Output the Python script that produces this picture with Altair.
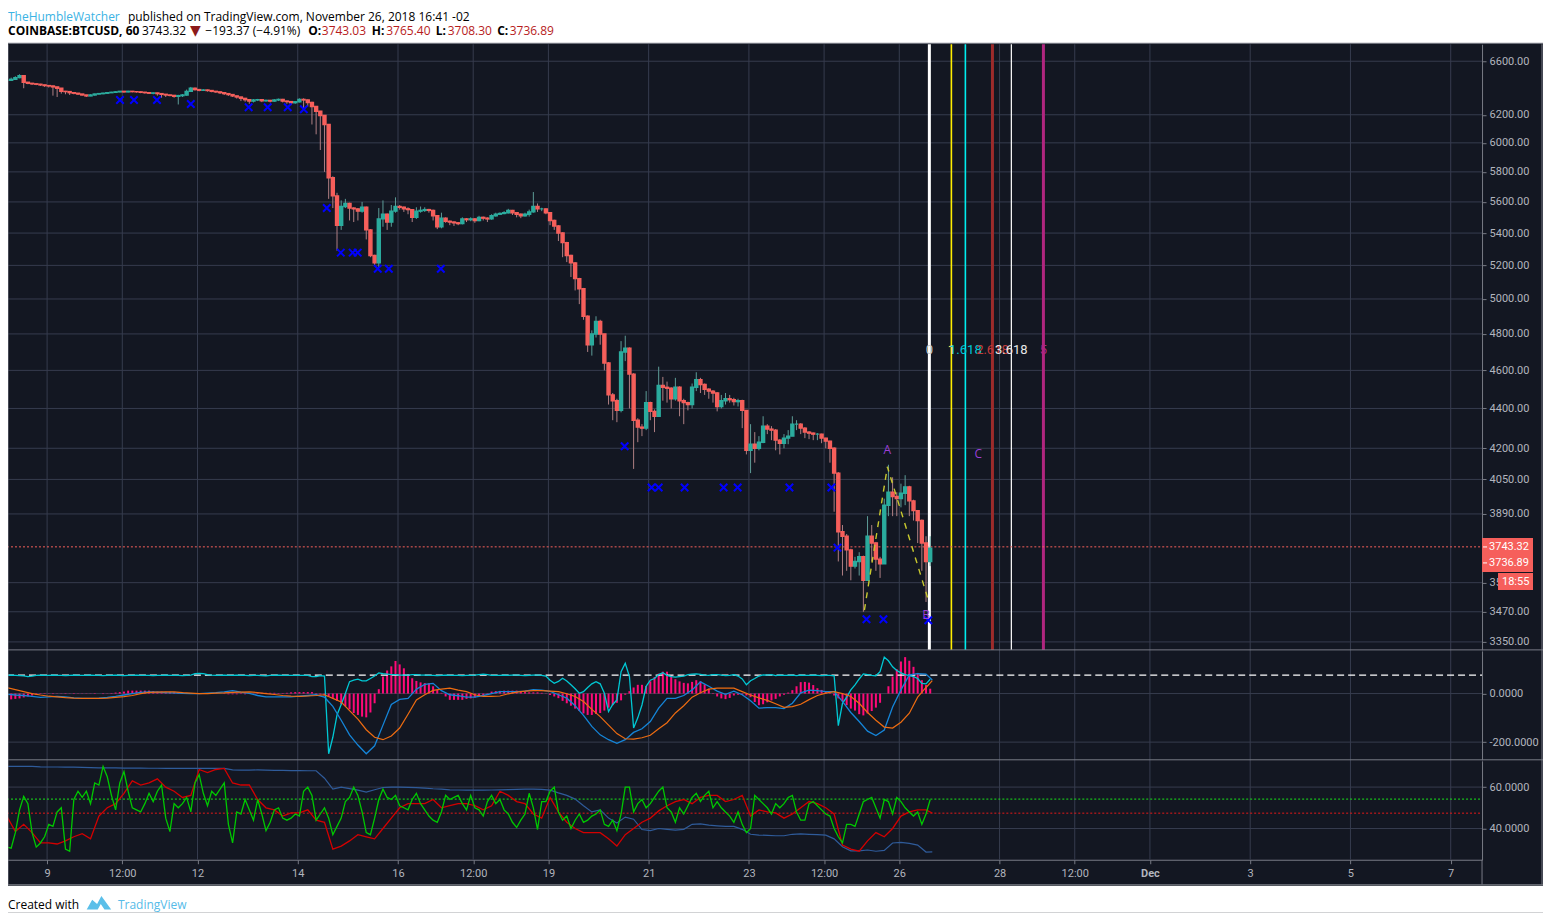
import altair as alt
import pandas as pd

# ---------- data ----------
closes = [
 6455,6462,6475,6490,6440,6432,6428,6425,6420,6415,
 6412,6405,6395,6372,6370,6362,6358,6352,6345,6338,
 6345,6352,6355,6358,6362,6365,6368,6372,6368,6372,
 6370,6368,6365,6362,6358,6360,6355,6350,6345,6342,
 6335,6340,6345,6372,6395,6385,6380,6382,6378,6372,
 6368,6362,6355,6348,6338,6330,6320,6310,6300,6308,
 6310,6302,6305,6300,6308,6312,6300,6296,6288,6295,
 6312,6308,6290,6260,6225,6195,6130,5760,5640,5450,
 5570,5590,5560,5555,5540,5565,5420,5260,5215,5490,
 5520,5470,5540,5570,5565,5555,5550,5500,5540,5545,
 5550,5545,5510,5440,5495,5475,5470,5465,5460,5490,
 5485,5490,5480,5500,5495,5490,5510,5520,5525,5530,
 5545,5530,5520,5510,5520,5535,5570,5555,5555,5530,
 5480,5445,5400,5340,5260,5215,5120,5060,4900,4740,
 4800,4870,4800,4640,4470,4440,4390,4700,4720,4580,
 4340,4305,4300,4430,4385,4360,4520,4510,4505,4450,
 4510,4440,4430,4420,4510,4550,4525,4500,4490,4480,
 4410,4440,4450,4445,4435,4440,4390,4190,4220,4200,
 4230,4310,4295,4290,4240,4225,4250,4260,4320,4320,
 4300,4280,4275,4270,4270,4250,4235,4200,4080,3810,
 3790,3730,3660,3680,3700,3600,3790,3760,3690,3670,
 3930,3990,3970,3960,3985,4015,3950,3905,3860,3760,
 3680,3737]
highs = [
 6470,6475,6485,6500,6490,6440,6435,6430,6428,6422,
 6418,6415,6405,6395,6375,6372,6365,6358,6352,6346,
 6350,6355,6358,6362,6365,6368,6372,6375,6375,6376,
 6375,6374,6372,6368,6364,6364,6362,6358,6352,6348,
 6345,6346,6352,6385,6405,6400,6390,6388,6385,6380,
 6374,6370,6362,6356,6350,6340,6332,6320,6312,6315,
 6316,6312,6310,6308,6314,6318,6316,6304,6298,6300,
 6320,6320,6312,6295,6262,6228,6195,6130,5770,5660,
 5610,5620,5595,5565,5560,5600,5570,5425,5265,5560,
 5610,5525,5580,5630,5580,5570,5565,5552,5565,5570,
 5565,5555,5550,5512,5530,5500,5480,5475,5470,5500,
 5495,5500,5495,5510,5505,5500,5520,5530,5532,5540,
 5555,5548,5530,5525,5530,5550,5665,5590,5562,5558,
 5530,5485,5450,5405,5345,5265,5220,5125,5065,4905,
 4820,4900,4880,4800,4645,4480,4450,4760,4790,4725,
 4585,4350,4320,4490,4435,4395,4620,4565,4540,4510,
 4560,4515,4450,4435,4530,4590,4560,4530,4505,4495,
 4485,4470,4480,4470,4455,4450,4445,4392,4320,4280,
 4260,4360,4320,4310,4295,4245,4270,4290,4360,4340,
 4325,4305,4285,4278,4275,4272,4252,4237,4205,4085,
 3840,3800,3735,3700,3720,3705,3880,3840,3765,3700,
 3960,4120,4060,3990,4030,4070,4020,3955,3905,3865,
 3790,3790]
lows = [
 6445,6450,6460,6470,6395,6425,6420,6418,6412,6405,
 6400,6340,6330,6355,6350,6345,6350,6345,6340,6330,
 6336,6340,6348,6350,6355,6360,6362,6365,6362,6364,
 6364,6362,6358,6355,6352,6350,6340,6325,6330,6335,
 6325,6275,6330,6340,6370,6378,6372,6375,6370,6365,
 6360,6352,6345,6338,6330,6318,6300,6295,6280,6290,
 6300,6292,6295,6290,6295,6300,6290,6280,6270,6280,
 6290,6240,6260,6130,6060,5950,5800,5620,5560,5290,
 5420,5560,5480,5470,5480,5530,5360,5250,5200,5190,
 5440,5420,5440,5530,5550,5535,5520,5470,5490,5530,
 5535,5530,5480,5425,5430,5465,5450,5445,5450,5455,
 5470,5475,5465,5475,5480,5470,5485,5505,5515,5520,
 5525,5515,5500,5495,5505,5505,5530,5535,5540,5520,
 5450,5420,5350,5250,5220,5130,5050,4970,4880,4700,
 4680,4780,4740,4600,4420,4340,4330,4380,4650,4400,
 4100,4230,4260,4290,4340,4280,4360,4440,4430,4400,
 4440,4360,4320,4390,4400,4490,4480,4470,4450,4430,
 4385,4400,4420,4430,4415,4410,4300,4170,4080,4130,
 4190,4225,4270,4240,4190,4170,4200,4220,4260,4290,
 4270,4250,4245,4240,4240,4225,4200,4130,3900,3680,
 3620,3640,3600,3650,3620,3470,3600,3680,3640,3610,
 3680,3880,3880,3880,3920,3930,3880,3860,3760,3640,
 3510,3660]
hist = [
 -22,-24,-22,-20,-16,-12,-8,-5,-2,-2,
 1,-2,1,-1,-2,1,2,1,-1,-1,
 1,2,0,-2,-1,2,4,6,8,12,
 12,12,12,12,12,10,8,8,7,7,
 6,5,5,2,2,1,-1,-2,-1,1,
 1,0,-2,-3,-3,-3,-2,-3,-2,-1,
 2,3,3,3,3,2,2,3,5,6,
 6,6,6,6,-3,-4,-8,-12,-18,-30,
 -44,-52,-65,-80,-88,-95,-98,-78,-40,18,
 70,95,112,134,120,104,80,63,52,46,
 43,42,30,15,3,-12,-26,-26,-26,-26,
 -22,-20,-16,-12,-8,-5,8,10,11,12,
 12,12,12,7,6,5,5,5,3,1,
 -6,-12,-19,-30,-40,-50,-62,-72,-82,-88,
 -88,-84,-80,-70,-58,-48,-38,-28,-5,10,
 25,36,36,31,50,68,82,90,90,75,
 59,50,44,42,48,55,50,38,20,2,
 -12,-20,-23,-18,-8,-5,-5,-8,-15,-35,
 -48,-44,-36,-28,-22,-12,-5,4,14,30,
 47,48,45,35,22,15,8,2,-8,-20,
 -32,-48,-62,-70,-85,-90,-82,-72,-58,-38,
 0,30,70,100,132,150,135,110,85,55,
 35,20]
macd_fast = [
 75,76,75,74,73,70,72,75,76,75,
 75,76,75,75,74,75,76,75,75,75,
 76,75,75,74,75,75,76,75,74,75,
 75,76,75,75,75,74,75,75,76,75,
 75,75,74,75,76,82,83,82,78,76,
 75,75,76,75,75,76,75,75,74,75,
 75,74,73,75,75,76,75,75,75,75,
 75,75,75,70,70,74,72,-248,-180,-88,
 -45,0,49,55,59,52,52,62,72,85,
 82,80,78,78,76,76,76,78,78,76,
 76,75,75,74,75,76,75,75,75,74,
 75,75,76,78,80,78,75,75,75,76,
 75,76,76,75,74,75,76,76,75,72,
 55,42,50,63,52,36,20,1,8,25,
 40,49,40,1,-74,-45,-26,90,125,70,
 -142,-100,-47,30,55,62,78,86,75,70,
 68,70,72,78,80,81,79,76,75,78,
 78,76,74,75,78,72,60,36,53,62,
 72,77,76,78,74,76,75,75,76,74,
 76,75,75,76,75,74,75,75,73,-132,
 -40,-15,15,36,60,81,78,75,73,90,
 150,135,110,95,85,78,74,70,62,42,
 40,59]
rsi_fast = [
 31,30.5,38,49,55.5,52,38,31,33,36,
 42,41,48,50,30,29,54,58,55,58,
 52,62,61,70,65,56,49,62,67.5,58,
 50,49,48,52,57,53,58,61,45,38.5,
 52,50,52,55,48,62,66,57,51,58,
 56,59,62,42,33,48,47,54,49,44,
 54,47,39,43,49,50,45,44,45,47,
 46,58,60,56,44,47,50,45,37,41,
 45,53,55,60,56,48,38,37,45,54,
 59,55,54,56,51,50,49,54,57,52,
 49,46,44,43,48,56,54,55,56,52,
 49,56,50,49,46,53,56,52,54,49,
 47,43,40.5,44,47,57,50,39.5,53,53,
 58,60,48,44,46,40,44,47,43,44,
 46,47,49,42,41,44,39,47,60,60,
 48,52,54,50,52,55,58,60,50,48,
 43,50,47,51,55,57,53,56,58,50,
 53,50,48,46,43,48,42,38,40,56,
 54,52,50,47,52,50,52,55,56,48,
 44,44,52,53,51,49,47,46,40,36,
 33,42,42,41,47,53,54,55,50,45,
 54,53,47,55,53,50,48,46,48,42,
 47,54]
macd_line = [
 -3,-6,-8,-12,-16,-14,-12,-14,-18,-20,-20,-19,-16,-12,-6,0,5,7,6,4,3,1,0,0,2,4,7,12,6,1,
 -8,-14,-14,-14,-14,-11,-8,-5,-15,-53,-110,-170,-212,-248,-215,-130,-45,-24,-20,18,38,42,12,-5,-9,-15,-15,-8,0,8,
 8,8,10,16,14,9,-5,-19,-50,-90,-135,-170,-190,-205,-190,-160,-145,-115,-60,-20,-20,-8,15,48,30,10,-3,10,-5,-30,
 -60,-58,-58,-62,-40,3,14,12,8,8,-32,-78,-115,-155,-173,-150,-55,15,77,82,80,56]
macd_signal = [
 24,16,8,0,-6,-11,-14,-17,-19,-20,-20,-20,-19,-16,-13,-8,0,5,6,7,7,4,2,0,0,2,3,5,6,7,
 4,0,-4,-8,-11,-12,-10,-8,-5,-20,-35,-70,-105,-149,-180,-190,-175,-142,-85,-26,-5,13,18,22,14,8,-5,-12,-12,-10,
 -1,6,10,12,12,10,8,-1,-12,-33,-65,-95,-130,-165,-186,-188,-182,-172,-145,-120,-80,-50,-15,3,18,22,22,22,8,-6,
 -18,-28,-42,-57,-54,-44,-25,-8,2,8,0,-12,-40,-78,-110,-138,-142,-118,-81,-15,25,53]
rsi_slow = [
 45.8,38.5,42,38,33,33,32.5,34,36,37.5,35,46,50,52,57,63,61,62,64,60,58,55,56,68.5,67,68.5,69,62,61,61,
 54,50,49,46,47.5,47.5,49,44,43,30,31.5,34,37,36,35,40,45,50,52,52,52,54,50,51,52,52,51,49,51,58,
 56,53,52,47,45,55,48,43,40,38,38,38,35,31.5,37,40,43,45,48.5,51,53,54,52,55,56,56,53,54,56,46,
 49,48,47.5,45,47,50,53,52,50,47,32,30,29,34,38,36,40,46,48,49,49,47.5]
rsi_long = [
 70,70,70,70,69.8,69.7,69.7,69.6,69.6,69.5,69.4,69.3,69.3,69.3,69.2,69.2,69.2,69.1,69.1,69,69,69,69,69,69,69,69,68.3,68.2,68.2,
 68.3,68.2,68.1,68.1,68,68,67.9,67.9,64.3,59,60,59.3,58.5,57.6,58.7,59.8,60,60,59.9,59.7,59.5,59.2,59,58.7,58.6,58.5,58.5,58.5,58.6,58.7,
 58.8,58.9,59,59,58.9,58.5,57.2,56,54.2,51,48,49,45,42.6,45.5,44.5,39.5,39,40,39.6,39.2,39.6,42,42.2,41.6,41.3,41,41,39.6,37.2,
 36.8,36.7,36.5,36.5,37.2,37.4,37.2,37,36.8,35,31.2,29.2,29.2,29.6,29,29.4,33,33.3,32.8,32,28.6,28.7]

cross_hours = [54.1,60.8,71.8,88,115.7,124.8,134.4,142.1,153.1,159.8,165.5,167.9,177.5,182.8,207.7,295.7,308.6,312,324.4,343.1,349.8,374.6,394.7,397.6,411.5,419.6,441.1]
cross_price = [6308,6308,6308,6278,6255,6255,6255,6240,5560,5278,5278,5278,5180,5180,5180,4210,4012,4012,4012,4012,4012,4012,4012,3740,3440,3440,3436]

abcd_hours = [410.5,421.5,441.1]
abcd_price = [3477,4110,3518]

fib_hours = [441.6,452.14,458.84,471.8,480.85,496.2]
fib_colors = ["#ffffff","#ffee00","#00eeee","#9c2b2b","#ffffff","#b0267f"]
fib_widths = [3,1.6,1.6,3,1.2,3]
fib_texts = ["0","1","1.618","2.618","3.618","5"]
fib_textcolors = ["#d0d0d0","#ffeb3b","#00c8d8","#c43c3c","#e8e8e8","#b0267f"]

price_ticks = [6600,6200,6000,5800,5600,5400,5200,5000,4800,4600,4400,4200,4050,3890,3590,3470,3350]
macd_ticks = [0,-200]
rsi_ticks = [60,40]
x_tick_hours = [19.2,55.2,91.2,139.2,187.2,223.2,259.2,307.2,355.2,391.2,427.2,475.2,511.2,547.2,595.2,643.2,691.2]
x_tick_labels = ["9","12:00","12","14","16","12:00","19","21","23","12:00","26","28","12:00","Dec","3","5","7"]

# ---------- page geometry (plot area is the whole chart; page px - 8) ----------
W, H = 1536, 905
BG = "#131722"; GRID = "#363c4e"; EDGE = "#787b86"; TXT = "#b2b5be"
RED = "#f65f5b"; TEAL = "#2bac9e"
LEFT, RIGHT = -1, 1475

xs = alt.Scale(domain=[0, 706.2], range=[LEFT, RIGHT], nice=False, zero=False, padding=0)
main = alt.Scale(type="log", domain=[3319, 6732], range=[642, 36], nice=False)
ms = alt.Scale(domain=[-272.8, 175.7], range=[752, 643], nice=False, zero=False)
rs = alt.Scale(domain=[24.9, 72.7], range=[852, 753], nice=False, zero=False)

X = alt.X("h:Q", scale=xs, axis=None)

def yq(field, scale):
    return alt.Y(field + ":Q", scale=scale, axis=None)

def frame(**cols):
    return pd.DataFrame(cols)

def txt(s, px, py, color="#000000", size=12, weight="normal", align="left", font="Open Sans"):
    return alt.Chart(frame(t=[s])).mark_text(
        align=align, baseline="middle", color=color, fontSize=size, fontWeight=weight, font=font
    ).encode(x=alt.value(px - 8), y=alt.value(py - 8), text="t:N")

def box(x0, x1, y0, y1, color):
    return alt.Chart(frame(a=[0])).mark_rect(color=color).encode(
        x=alt.value(x0 - 8), x2=alt.value(x1 - 8), y=alt.value(y0 - 8), y2=alt.value(y1 - 8))

def hrule(x0, x1, y, color=EDGE, w=1):
    return alt.Chart(frame(a=[0])).mark_rule(color=color, strokeWidth=w).encode(
        x=alt.value(x0 - 8), x2=alt.value(x1 - 8), y=alt.value(y - 8))

def vrule(x, y0, y1, color=EDGE, w=1):
    return alt.Chart(frame(a=[0])).mark_rule(color=color, strokeWidth=w).encode(
        x=alt.value(x - 8), y=alt.value(y0 - 8), y2=alt.value(y1 - 8))

def hgrid(values, scale, axis):
    return alt.Chart(frame(v=values)).mark_rule(color=GRID, strokeWidth=1).encode(
        y=alt.Y("v:Q", scale=scale, axis=axis), x=alt.value(LEFT), x2=alt.value(RIGHT))

def line(values, scale, color, w=1.2, step=4):
    hours = [min(step * k, 443) for k in range(len(values))]
    return alt.Chart(frame(h=hours, v=values)).mark_line(color=color, strokeWidth=w, interpolate="linear").encode(
        x=X, y=yq("v", scale))

def level(value, scale, color, dash, w=1):
    return alt.Chart(frame(v=[value])).mark_rule(color=color, strokeDash=dash, strokeWidth=w).encode(
        y=yq("v", scale), x=alt.value(LEFT), x2=alt.value(RIGHT))

def yaxis(values, fmt):
    return alt.Axis(values=values, format=fmt, orient="right", offset=-61, title=None, grid=False,
                    labelExpr="replace(datum.label, '\u2212', '-')",
                    labelColor=TXT, labelFont="Roboto", labelFontSize=11, labelPadding=3,
                    tickColor=EDGE, tickSize=4, domainColor=EDGE, labelOverlap=False)

label_map = ",".join("'%s':'%s'" % (h, l) for h, l in zip(x_tick_hours, x_tick_labels))
x_axis = alt.Axis(values=x_tick_hours, orient="bottom", offset=-53, title=None, grid=False,
                  labelExpr="{%s}[datum.value]" % label_map,
                  labelColor=TXT, labelFont="Roboto", labelFontSize=11, labelPadding=4,
                  labelFontWeight={"condition": {"test": "datum.value == 547.2", "value": "bold"}, "value": "normal"},
                  tickColor=EDGE, tickSize=4, domainColor=EDGE, labelOverlap=False)

# ---------- candles ----------
opens = [closes[0]] + closes[:-1]
cdf = frame(h=[2 * i for i in range(len(closes))], o=opens, c=closes, hi=highs, lo=lows)
cdf["body"] = [TEAL if c >= o else RED for o, c in zip(opens, closes)]
cdf["wick"] = ["#5d9d98" if c >= o else "#b08084" for o, c in zip(opens, closes)]

wicks = alt.Chart(cdf).mark_rule(strokeWidth=1).encode(
    x=X, y=yq("lo", main), y2=alt.Y2("hi"), color=alt.Color("wick:N", scale=None, legend=None))
bodies = alt.Chart(cdf).mark_bar(size=3, strokeWidth=1.4).encode(
    x=X, y=yq("o", main), y2=alt.Y2("c"),
    color=alt.Color("body:N", scale=None, legend=None),
    stroke=alt.Stroke("body:N", scale=None, legend=None))

crosses = alt.Chart(frame(h=cross_hours, p=cross_price)).mark_point(
    shape="M-1,-1L1,1M-1,1L1,-1", size=56, color="#0000ff", strokeWidth=2, filled=False, opacity=1
).encode(x=X, y=yq("p", main))

abcd = alt.Chart(frame(h=abcd_hours, p=abcd_price)).mark_line(
    color="#c9c92e", strokeWidth=1.4, strokeDash=[6, 6]).encode(x=X, y=yq("p", main))

fdf = frame(h=fib_hours, col=fib_colors, w=fib_widths, t=fib_texts, tc=fib_textcolors, p=[4710] * 6)
fib_lines = alt.Chart(fdf).mark_rule().encode(
    x=X, y=alt.value(36), y2=alt.value(642),
    color=alt.Color("col:N", scale=None, legend=None),
    strokeWidth=alt.StrokeWidth("w:Q", scale=None, legend=None))
fib_text = alt.Chart(fdf).mark_text(fontSize=13, font="Roboto", baseline="middle").encode(
    x=X, y=yq("p", main), text="t:N", color=alt.Color("tc:N", scale=None, legend=None))

abc = alt.Chart(frame(h=[421.5, 465, 440], p=[4190, 4170, 3455], t=["A", "C", "B"])).mark_text(
    fontSize=12, font="Open Sans", color="#9b3fd6", baseline="middle").encode(x=X, y=yq("p", main), text="t:N")

hdf = frame(h=[2 * i for i in range(len(hist))], v=hist, z=[0] * len(hist))
hist_bars = alt.Chart(hdf).mark_rule(color="#ff0a78", strokeWidth=2).encode(x=X, y=yq("z", ms), y2=alt.Y2("v"))

xgrid = alt.Chart(frame(h=x_tick_hours)).mark_rule(color=GRID, strokeWidth=1).encode(
    x=alt.X("h:Q", scale=xs, axis=x_axis), y=alt.value(36), y2=alt.value(852))

logo = alt.Chart(frame(a=[0])).mark_point(
    shape="M-1,0.55L-0.55,-0.25L-0.15,0.1L0.2,-0.55L1,0.55L0.45,0.55L0.15,0.1L-0.1,0.55Z",
    size=600, color="#5bbfe9", filled=True, opacity=1, strokeWidth=0
).encode(x=alt.value(99 - 8), y=alt.value(903 - 8))

layers = [
    box(0, 1544, 0, 43, "#ffffff"),
    box(0, 1544, 886, 913, "#ffffff"),
    xgrid,
    hgrid(price_ticks, main, yaxis(price_ticks, ".2f")),
    hgrid(macd_ticks, ms, yaxis(macd_ticks, ".4f")),
    hgrid(rsi_ticks, rs, yaxis(rsi_ticks, ".4f")),
    fib_lines,
    level(3743.32, main, RED, [2, 2]),
    wicks, bodies, abcd, crosses, fib_text, abc,
    # MACD pane
    hist_bars,
    level(75.7, ms, "#ffffff", [7, 4], 1.4),
    line(macd_fast, ms, "#00c8d4", 1.3, 2),
    line(macd_line, ms, "#1585d8", 1.3),
    line(macd_signal, ms, "#ee6c11", 1.2),
    # RSI pane
    level(54.2, rs, "#19e619", [2, 2]),
    level(47.4, rs, "#e61919", [2, 2]),
    line(rsi_long, rs, "#2f5b9a", 1.2),
    line(rsi_slow, rs, "#d40000", 1.3),
    line(rsi_fast, rs, "#00c800", 1.3, 2),
    # pane edges
    hrule(8, 1544, 43), hrule(8, 1544, 650), hrule(8, 1544, 760), hrule(8, 1544, 885),
    vrule(8, 44, 885), vrule(1543, 44, 885), vrule(1483, 860, 885),
    # price tags
    box(1483, 1534, 538, 572, RED),
    box(1499, 1534, 573, 590, RED),
    hrule(1484, 1488, 547, "#ffffff"), hrule(1484, 1488, 563, "#ffffff"),
    txt("3743.32", 1490, 547, "#ffffff", 11, font="Roboto"),
    txt("3736.89", 1490, 563, "#ffffff", 11, font="Roboto"),
    txt("18:55", 1503, 582, "#ffffff", 11, font="Roboto"),
    # header
    txt("TheHumbleWatcher", 8, 16.5, "#3bb3e4"),
    txt("published on TradingView.com, November 26, 2018 16:41 -02", 128, 16.5),
    txt("COINBASE:BTCUSD, 60", 8, 31, weight="bold"),
    txt("3743.32", 142, 31),
    txt("\u25BC", 190, 31, "#8b1a1a", 14, font="DejaVu Sans"),
    txt("\u2212193.37 (\u22124.91%)", 205.5, 31),
    txt("O:", 308.5, 31, weight="bold"),
    txt("3743.03", 322, 31, "#b71c1c"),
    txt("H:", 372, 31, weight="bold"),
    txt("3765.40", 386.5, 31, "#b71c1c"),
    txt("L:", 436, 31, weight="bold"),
    txt("3708.30", 448, 31, "#b71c1c"),
    txt("C:", 497.5, 31, weight="bold"),
    txt("3736.89", 510, 31, "#b71c1c"),
    # footer
    txt("Created with", 8, 905),
    logo,
    txt("TradingView", 118, 905, "#56bbe8"),
]

chart = alt.layer(*layers).resolve_scale(y="independent").resolve_axis(x="independent").properties(
    width=W, height=H, padding=0, background="#ffffff",
    autosize=alt.AutoSizeParams(type="none")
).configure_view(fill=BG, stroke=None)

chart.save("out.html", embed_options={"renderer": "svg", "actions": False})
